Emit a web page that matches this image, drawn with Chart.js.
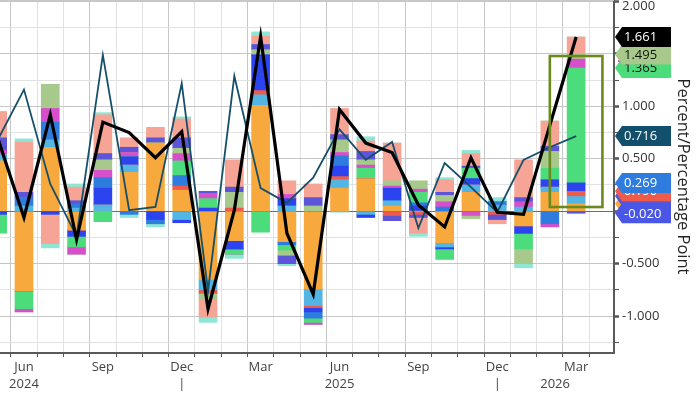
<!DOCTYPE html>
<html><head><meta charset="utf-8">
<script src="https://cdn.jsdelivr.net/npm/chart.js@4.4.1/dist/chart.umd.min.js"></script>
<style>html,body{margin:0;padding:0;background:#fff;overflow:hidden;}</style>
</head><body>
<canvas id="c" width="700" height="394" style="display:block;width:700px;height:394px"></canvas>
<script>
// ---------- DATA ----------
const categories = ['May 2024','Jun 2024','Jul 2024','Aug 2024','Sep 2024','Oct 2024','Nov 2024','Dec 2024',
  'Jan 2025','Feb 2025','Mar 2025','Apr 2025','May 2025','Jun 2025','Jul 2025','Aug 2025','Sep 2025','Oct 2025','Nov 2025','Dec 2025',
  'Jan 2026','Feb 2026','Mar 2026'];
const xTickLabels = ['', 'Jun', '', '', 'Sep', '', '', 'Dec', '', '', 'Mar', '', '', 'Jun', '', '', 'Sep', '', '', 'Dec', '', '', 'Mar', ''];
const yearLabels = ['2024', '|', '2025', '|', '2026'];
const yearLabelAt = [1, 7, 13, 19, 21.2];
const yTickValues = [-1.25, -1, -0.75, -0.5, -0.25, 0, 0.25, 0.5, 0.75, 1, 1.25, 1.5, 1.75, 2];

const orange  = [0.48,-0.76,0.61,-0.18,0,0.37,0.65,0.20,-0.65,-0.28,1.01,-0.29,-0.74,0.22,0.31,0.05,0,-0.30,0.18,0,-0.14,0.18,0.07];
const sky     = [0.06,0.05,0.07,0.03,0.06,0.07,0,-0.08,-0.10,0,0.10,0.05,-0.16,0.08,-0.03,0.05,0,-0.04,0.07,0.06,0.04,0.05,0.07];
const red     = [0,0,0,0,0,0,0,0.04,-0.03,0.03,0.04,0,-0.02,0.03,0,-0.04,-0.03,0,0,-0.03,0,0,0.05];
const royal   = [-0.03,0,-0.03,-0.06,0.16,0.08,-0.08,-0.03,0.03,-0.08,0.34,0.07,-0.04,0.10,-0.03,0.12,0.05,-0.02,0.06,0,-0.07,0.07,0.079];
const blue    = [0,0.08,0.17,0.04,0.10,-0.03,-0.04,0.10,0,0,0,-0.03,-0.06,0.10,0,0,0.03,0.04,0,0.03,0,-0.12,0];
const green   = [-0.18,-0.17,0,-0.10,-0.10,0,0,0.14,0.09,-0.05,-0.20,-0.05,-0.04,0,0.10,0,0.10,-0.10,0.10,0,-0.15,0.11,1.096];
const magenta = [0.04,-0.03,0.13,-0.07,0.07,0.04,0,0.07,0.05,0,0,0.04,-0.02,0.03,0.03,0.02,0.03,0.05,-0.04,0,0.05,-0.03,0.085];
const olive   = [0,0,0.23,0,0.10,0,0,0.05,-0.06,0.15,0.05,-0.05,0.05,0.12,0.05,0.05,0.08,0.06,-0.03,0,-0.14,0.16,0.045];
const indigo  = [0.12,0.05,0,0.03,0.06,0.05,0.05,0.10,0.02,0.05,0.05,-0.08,0.08,0.05,0.08,-0.05,-0.03,0.03,0.02,-0.05,0.04,0.05,-0.02];
const salmon  = [0.25,0.48,-0.28,0.13,0.37,0.09,0.10,0.18,-0.17,0.26,0.08,0.13,0.13,0.25,0.10,0.36,-0.15,0.12,0.12,-0.04,0.36,0.24,0.166];
const aqua    = [0,0.03,-0.04,0.03,0.02,-0.03,-0.03,0.02,-0.05,-0.04,0.04,-0.02,0,-0.01,0.04,0,-0.03,0.02,0.03,0.04,-0.04,0,0];

const totalLine = [0.70,-0.06,0.92,-0.27,0.85,0.75,0.51,0.76,-0.93,0.01,1.665,-0.21,-0.79,0.97,0.65,0.56,0.06,-0.15,0.51,-0.01,-0.03,0.82,1.661];
const coreLine  = [0.68,1.16,0.26,-0.24,1.49,0.01,0.04,1.22,-0.76,1.29,0.22,0.08,0.32,0.78,0.49,0.66,-0.16,0.46,0.23,-0.01,0.49,0.61,0.716];

const tagTexts  = ['0.070','0.146','0.190','0.269','-0.020','1.365','1.495','1.661','0.716'];
const tagValues = [0.070, 0.146, 0.190, 0.269, -0.020, 1.365, 1.495, 1.661, 0.716];
const tagBg = ['#F8A93D','#5D55D8','#EE5B4B','#2F7CDF','#4A56E6','#4DDC7B','#A7C98B','#000000','#124F6B'];
const tagFg = ['#111','#fff','#fff','#fff','#fff','#111','#111','#fff','#fff'];

const highlightX = [21, 23];
const highlightY = [0.04, 1.48];

// ---------- CHART ----------
const FONT = '"Open Sans", "DejaVu Sans", sans-serif';
const xIdx = categories.map((_, i) => i);
const barSeries = [
  ['Orange', orange, '#F8A93D'], ['Sky', sky, '#52B5E4'], ['Red', red, '#EE5B4B'],
  ['Royal', royal, '#2C44F0'], ['Blue', blue, '#2F7CDF'], ['Green', green, '#4DDC7B'],
  ['Magenta', magenta, '#D84FCB'], ['Olive', olive, '#A7C98B'], ['Indigo', indigo, '#5D55D8'],
  ['Salmon', salmon, '#F6A495'], ['Aqua', aqua, '#8FE6D4']
];
const datasets = [
  { type:'line', label:'Total', data: totalLine, borderColor:'#000', borderWidth:3.2, pointRadius:0, tension:0, stack:'l1', order:0 },
  { type:'line', label:'Core', data: coreLine, borderColor:'#164F69', borderWidth:1.8, pointRadius:0, tension:0, stack:'l2', order:1 }
];
barSeries.forEach(([name, arr, col]) => datasets.push({
  type:'bar', label:name, data:arr, backgroundColor:col, borderWidth:0, barThickness:18, stack:'bars', order:2
}));

const quarterly = new Set([1,4,7,10,13,16,19,22]);

const decor = {
  id:'decor',
  beforeDraw(chart){
    const c = chart.ctx; c.save(); c.fillStyle='#fff'; c.fillRect(0,0,chart.width,chart.height); c.restore();
  },
  afterDatasetsDraw(chart){
    const c = chart.ctx, xs = chart.scales.x, ys = chart.scales.y;
    const x0 = xs.getPixelForValue(highlightX[0]), x1 = xs.getPixelForValue(highlightX[1]);
    const y0 = ys.getPixelForValue(highlightY[1]), y1 = ys.getPixelForValue(highlightY[0]);
    c.save(); c.strokeStyle='#6B8A1E'; c.lineWidth=2.6; c.strokeRect(x0, y0, x1-x0, y1-y0); c.restore();
  },
  afterDraw(chart){
    const c = chart.ctx, xs = chart.scales.x, ys = chart.scales.y, a = chart.chartArea;
    c.save();
    c.strokeStyle='#c8c8c8'; c.lineWidth=1; c.beginPath(); c.moveTo(a.left, 0.5); c.lineTo(a.right, 0.5); c.stroke();
    c.font = '13px ' + FONT; c.fillStyle='#333'; c.textAlign='left'; c.textBaseline='middle';
    c.fillText('2.000', a.right + 8, 6);
    c.fillStyle='#444'; c.textAlign='center';
    yearLabels.forEach((t, i) => c.fillText(t, xs.getPixelForValue(yearLabelAt[i]), 384));
    tagTexts.forEach((t, i) => {
      const cy = ys.getPixelForValue(tagValues[i]);
      const x0 = a.right + 1, xp = a.right + 8, x1 = a.right + 57, h = 20;
      c.beginPath(); c.moveTo(x0, cy); c.lineTo(xp, cy - h/2); c.lineTo(x1, cy - h/2); c.lineTo(x1, cy + h/2); c.lineTo(xp, cy + h/2); c.closePath();
      c.fillStyle = tagBg[i]; c.fill();
      c.fillStyle = tagFg[i]; c.textAlign='left'; c.textBaseline='middle';
      c.font = '13px ' + FONT;
      c.fillText(t, a.right + 10, cy + 0.5);
      if (t === '1.365') { c.fillStyle = '#D84FCB'; c.fillRect(a.right + 4, cy - 8, 53, 2); }
    });
    c.restore();
  }
};

new Chart(document.getElementById('c'), {
  data: { labels: xIdx, datasets },
  options: {
    responsive:false, animation:false, devicePixelRatio:1,
    layout:{ padding:0 },
    plugins:{ legend:{display:false}, tooltip:{enabled:false} },
    scales:{
      x:{
        type:'linear', stacked:true, offset:false, min:0.088, max:23.44,
        afterBuildTicks: s => { s.ticks = xTickLabels.map((_, i) => ({value:i})).filter(t => t.value >= 1); },
        ticks:{ autoSkip:false, maxRotation:0, minRotation:0, padding:2, color:'#444', font:{family:FONT, size:13},
          callback: v => xTickLabels[v] || '' },
        grid:{ color: ctx => quarterly.has(ctx.tick && ctx.tick.value) ? '#c6c6c6' : '#e2e2e2', lineWidth:1,
          tickLength:4, tickColor:'#555', drawTicks:true },
        border:{ display:true, color:'#5a5a5a', width:2 },
        afterFit: s => { s.height = 41; s.paddingLeft = 0; s.paddingRight = 0; }
      },
      y:{
        position:'right', stacked:true, min:-1.352, max:2.014,
        afterBuildTicks: s => { s.ticks = yTickValues.map(v => ({value:v})); },
        ticks:{ padding:3, color:'#333', font:{family:FONT, size:13},
          callback: v => (v !== 2 && Math.abs(v*2 - Math.round(v*2)) < 1e-9) ? v.toFixed(3) : '' },
        grid:{ color: ctx => { const v = ctx.tick ? ctx.tick.value : 1; if (Math.abs(v) < 1e-9) return '#6e6e6e'; return Math.abs(v*2 - Math.round(v*2)) < 1e-9 ? '#c6c6c6' : '#e2e2e2'; },
          lineWidth:1, tickLength:5, tickColor:'#555',
          tickWidth: ctx => { const v = ctx.tick ? ctx.tick.value : 0; return Math.abs(v*2 - Math.round(v*2)) < 1e-9 ? 2.5 : 1; } },
        border:{ display:true, color:'#5a5a5a', width:2 },
        title:{ display:true, text:'Percent/Percentage Point', color:'#222', font:{family:FONT, size:16.5}, padding:{top:7, bottom:4} },
        afterFit: s => { s.width = 86; s.paddingTop = 0; s.paddingBottom = 0; }
      }
    }
  },
  plugins:[decor]
});
</script>
</body></html>
